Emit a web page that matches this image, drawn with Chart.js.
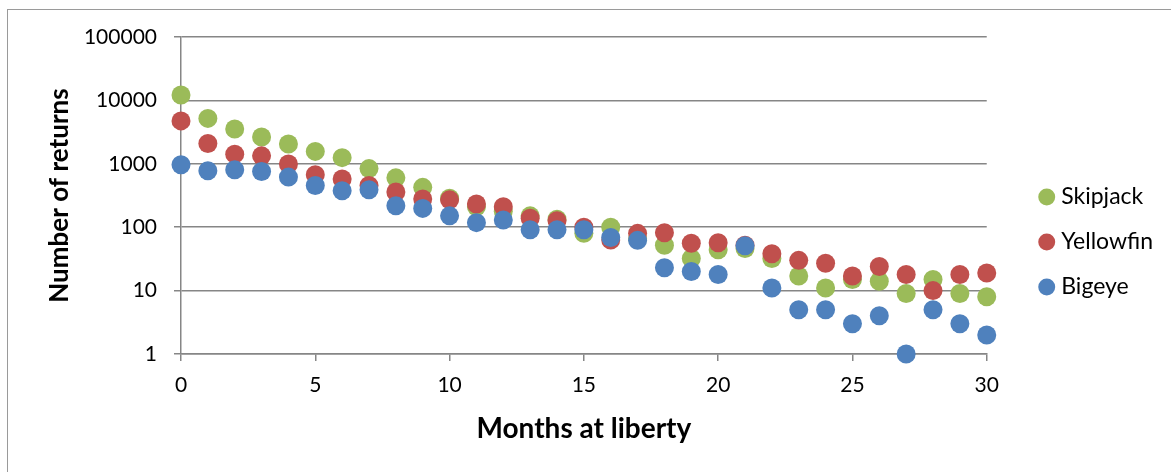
<!DOCTYPE html>
<html>
<head>
<meta charset="utf-8">
<script src="https://cdn.jsdelivr.net/npm/chart.js@4.4.1/dist/chart.umd.min.js"></script>
<style>
  html, body { margin: 0; padding: 0; background: #ffffff; }
  #wrap { position: relative; width: 1171px; height: 472px; overflow: hidden; }
  #frame { position: absolute; left: 7px; top: 9px; width: 1180px; height: 480px; border: 1.5px solid #9a9a9a; box-sizing: border-box; pointer-events: none; }
  canvas { position: absolute; left: 0; top: 0; }
</style>
</head>
<body>
<div id="wrap">
  <canvas id="c" width="1171" height="472"></canvas>
  <div id="frame"></div>
</div>
<script>
const months = [0,1,2,3,4,5,6,7,8,9,10,11,12,13,14,15,16,17,18,19,20,21,22,23,24,25,26,27,28,29,30];
const skipjack = [12200,5200,3540,2650,2050,1570,1250,840,600,425,287,210,178,151,134,80,100,66,52,32,44,46,32,17,11,15,14,9,15,9,8];
const yellowfin = [4750,2090,1420,1335,990,670,575,456,358,279,270,233,211,139,126,100,63,80,82,56,57,52,38,30,27,17,24,18,10,18,19];
const bigeye = [965,776,805,757,617,456,376,390,218,198,151,118,130,91,91,91,69,62,23,20,18,51,11,5,5,3,4,1,5,3,2];
const yTicks = [1,10,100,1000,10000,100000];
const seriesNames = ['Skipjack','Yellowfin','Bigeye'];
const seriesColors = ['#9BBB59','#C0504D','#4F81BD'];
const xTitle = 'Months at liberty';
const yTitle = 'Number of returns';

const FONT = 'Lato, "Liberation Sans", sans-serif';
const toPts = (vals) => vals.map((v, i) => ({x: months[i], y: v}));
const allSeries = [skipjack, yellowfin, bigeye];

const datasets = allSeries.map((vals, i) => ({
  label: seriesNames[i],
  data: toPts(vals),
  backgroundColor: seriesColors[i],
  borderColor: seriesColors[i],
  borderWidth: 0,
  pointRadius: 9.5,
  pointHoverRadius: 9.5,
  order: 2 - i,
  clip: false,
  xAxisID: 'x',
  yAxisID: 'y'
}));

new Chart(document.getElementById('c'), {
  type: 'scatter',
  data: { datasets },
  options: {
    responsive: false,
    animation: false,
    events: [],
    layout: { padding: { top: 37, right: 8, bottom: 25, left: 0 } },
    plugins: {
      tooltip: { enabled: false },
      legend: {
        position: 'right',
        align: 'center',
        labels: {
          usePointStyle: true,
          pointStyle: 'circle',
          boxWidth: 6,
          boxHeight: 12,
          padding: 22,
          color: '#000000',
          font: { family: FONT, size: 23 },
          sort: (a, b) => a.datasetIndex - b.datasetIndex
        }
      }
    },
    scales: {
      x: {
        type: 'linear',
        min: 0, max: 30,
        afterFit: (s) => { s.height = 93; },
        afterBuildTicks: (s) => { s.ticks = months.filter(m => m % 5 === 0).map(v => ({value: v})); },
        border: { display: true, color: '#868686', width: 1.5 },
        grid: { display: true, drawOnChartArea: false, drawTicks: true, tickLength: 7, color: '#868686', lineWidth: 1.5 },
        ticks: { color: '#000000', font: { family: FONT, size: 21 }, padding: 12, maxRotation: 0 },
        title: { display: true, text: xTitle, color: '#000000', font: { family: FONT, size: 28, weight: 'bold' }, padding: { top: 0, bottom: 1 } }
      },
      y: {
        type: 'logarithmic',
        position: 'left',
        min: 1, max: 100000,
        afterFit: (s) => { s.width = 181; },
        afterBuildTicks: (s) => { s.ticks = yTicks.map(v => ({value: v})); },
        border: { display: true, color: '#868686', width: 1.5 },
        grid: { display: true, drawOnChartArea: true, drawTicks: true, tickLength: 7, color: '#868686', lineWidth: 1.5 },
        ticks: { color: '#000000', font: { family: FONT, size: 21 }, padding: 17, callback: (v) => String(v) },
        title: { display: true, text: yTitle, color: '#000000', font: { family: FONT, size: 26, weight: 'bold' }, padding: { top: 44, bottom: 0 } }
      },
      gap: {
        type: 'linear',
        position: 'right',
        display: true,
        afterFit: (s) => { s.width = 35; },
        grid: { display: false, drawTicks: false },
        border: { display: false },
        ticks: { display: false }
      }
    }
  }
});
</script>
</body>
</html>
